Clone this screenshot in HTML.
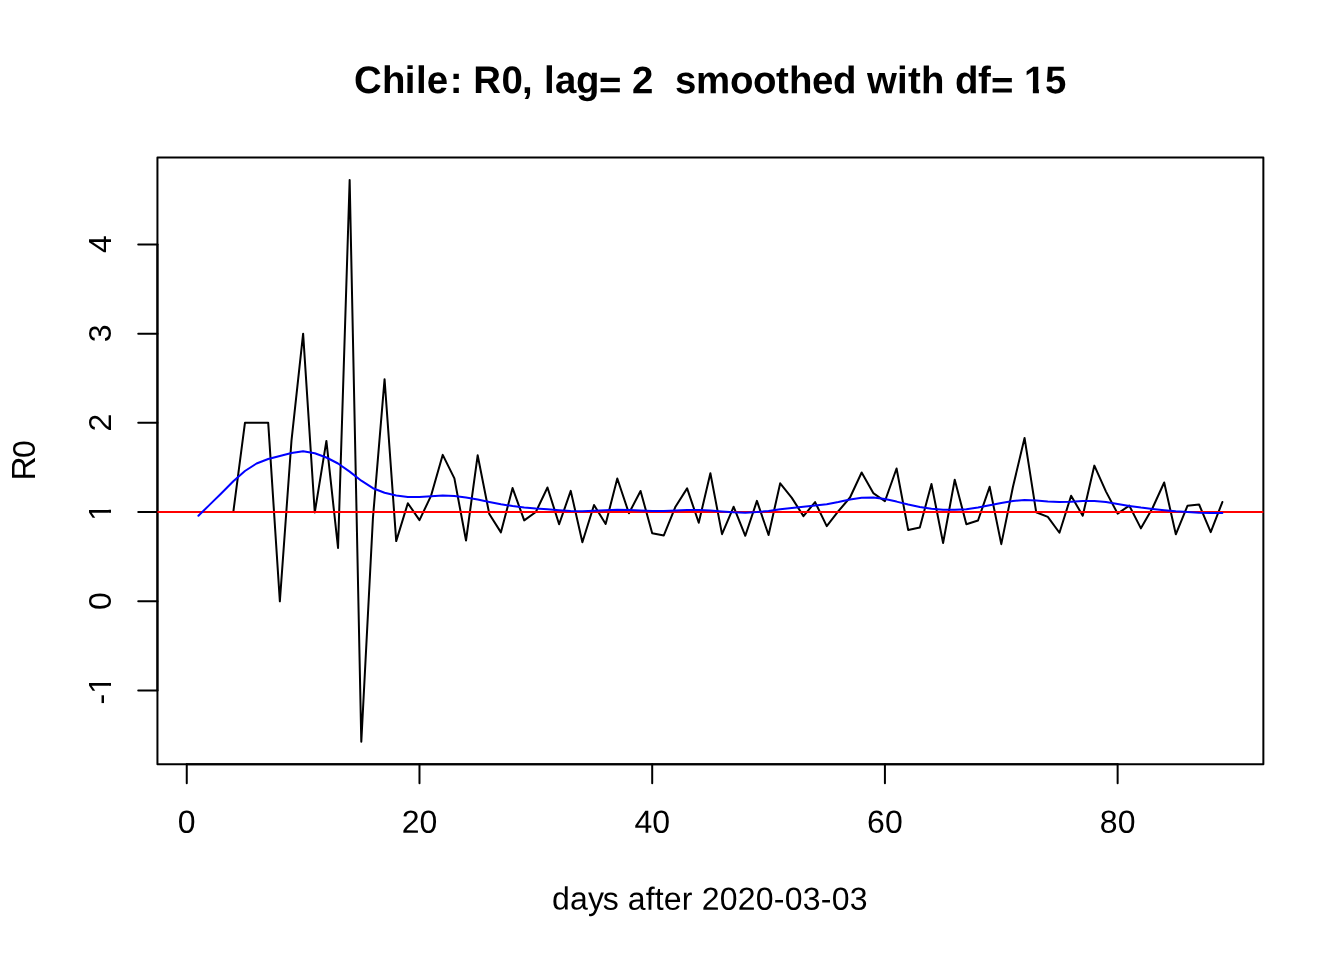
<!DOCTYPE html>
<html><head><meta charset="utf-8"><title>Chile R0</title>
<style>
html,body{margin:0;padding:0;background:#fff;}
body{width:1344px;height:960px;overflow:hidden;font-family:"Liberation Sans",sans-serif;}
svg{display:block;will-change:transform;}
text{font-family:"Liberation Sans",sans-serif;fill:#000;}
</style></head><body>
<svg width="1344" height="960" viewBox="0 0 1344 960">
<rect x="0" y="0" width="1344" height="960" fill="#fff"/>
<g fill="none" stroke-width="2" stroke-linecap="round" stroke-linejoin="round">
<polyline stroke="#000" points="198.40,512.09 210.03,512.09 221.67,512.09 233.30,512.09 244.94,422.87 256.58,422.87 268.21,422.87 279.85,601.31 291.48,440.60 303.12,333.65 314.76,512.50 326.39,440.90 338.03,548.00 349.66,179.90 361.30,741.70 372.94,518.00 384.57,379.20 396.21,541.10 407.84,503.20 419.48,520.10 431.12,495.60 442.75,454.85 454.39,478.35 466.02,540.50 477.66,455.30 489.30,514.00 500.93,532.35 512.57,488.05 524.20,520.35 535.84,511.95 547.48,487.50 559.11,524.25 570.75,490.90 582.38,542.20 594.02,505.00 605.66,524.00 617.29,478.50 628.93,513.30 640.56,491.00 652.20,533.20 663.84,535.40 675.47,506.70 687.11,488.40 698.74,522.70 710.38,473.30 722.02,534.15 733.65,506.75 745.29,535.80 756.92,500.90 768.56,534.95 780.20,483.30 791.83,497.90 803.47,516.15 815.10,502.10 826.74,526.15 838.38,511.20 850.01,497.50 861.65,472.50 873.28,493.10 884.92,501.25 896.56,468.50 908.19,529.95 919.83,527.40 931.46,483.90 943.10,542.95 954.74,479.80 966.37,524.25 978.01,520.50 989.64,486.80 1001.28,544.15 1012.92,487.00 1024.55,437.90 1036.19,512.20 1047.82,516.90 1059.46,532.75 1071.10,495.80 1082.73,515.65 1094.37,465.60 1106.00,491.60 1117.64,513.65 1129.28,505.60 1140.91,528.35 1152.55,508.00 1164.18,482.50 1175.82,534.30 1187.46,505.85 1199.09,504.50 1210.73,532.15 1222.36,502.05"/>
<g stroke="#000">
<path d="M186.76,764.16 H1117.64"/>
<path d="M186.76,764.16 v19.2"/>
<path d="M419.48,764.16 v19.2"/>
<path d="M652.20,764.16 v19.2"/>
<path d="M884.92,764.16 v19.2"/>
<path d="M1117.64,764.16 v19.2"/>
<path d="M157.44,690.53 V244.43"/>
<path d="M157.44,690.53 h-19.2"/>
<path d="M157.44,601.31 h-19.2"/>
<path d="M157.44,512.09 h-19.2"/>
<path d="M157.44,422.87 h-19.2"/>
<path d="M157.44,333.65 h-19.2"/>
<path d="M157.44,244.43 h-19.2"/>
<rect x="157.44" y="157.44" width="1105.92" height="606.72"/>
</g>
<path stroke="#ff0000" stroke-linecap="butt" d="M157.44,512.09 H1263.36"/>
<polyline stroke="#0000ff" points="198.40,515.80 210.03,504.40 221.67,493.00 233.30,481.20 244.94,471.00 256.58,463.50 268.21,459.00 279.85,456.00 291.48,453.00 303.12,451.30 314.76,453.20 326.39,457.50 338.03,463.50 349.66,471.60 361.30,480.70 372.94,488.20 384.57,492.80 396.21,495.40 407.84,496.90 419.48,497.10 431.12,496.30 442.75,495.40 454.39,496.00 466.02,497.50 477.66,499.40 489.30,501.90 500.93,504.20 512.57,506.10 524.20,507.50 535.84,508.60 547.48,509.30 559.11,510.20 570.75,510.90 582.38,511.20 594.02,510.75 605.66,510.20 617.29,509.85 628.93,509.95 640.56,510.60 652.20,511.00 663.84,511.00 675.47,510.50 687.11,510.00 698.74,510.10 710.38,510.50 722.02,511.50 733.65,512.30 745.29,512.70 756.92,512.10 768.56,511.00 780.20,509.30 791.83,508.00 803.47,506.70 815.10,505.50 826.74,504.20 838.38,502.00 850.01,499.40 861.65,497.80 873.28,497.50 884.92,499.10 896.56,501.60 908.19,504.50 919.83,507.00 931.46,508.80 943.10,509.70 954.74,509.85 966.37,509.30 978.01,507.50 989.64,505.20 1001.28,502.90 1012.92,501.00 1024.55,500.00 1036.19,500.50 1047.82,501.40 1059.46,502.00 1071.10,501.70 1082.73,501.10 1094.37,500.90 1106.00,502.10 1117.64,504.00 1129.28,505.90 1140.91,507.60 1152.55,509.00 1164.18,510.20 1175.82,511.30 1187.46,512.05 1199.09,512.70 1210.73,513.05 1222.36,513.10"/>

</g>
<text transform="translate(354.90,93) rotate(0.03)" font-size="38.4" font-weight="bold" id="title" xml:space="preserve" x="-0.8 27.1 49.8 61.1 71.8 94.8 107 118.3 146.7 167 178 189 200 221 244 266 277 298 309 320 341 375 398 421 434 457 478 501 512 542 553 566 589 600 623 636 658 669 690" dy="0 0 0 0 0 0 0 0 0 0 0 0 0 0 4.7 -4.7 0 0 0 0 0 0 0 0 0 0 0 0 0 0 0 0 0 0 0 4.7 -4.7 0 0">Chile: R0, lag= 2  smoothed with df= 15</text>
<text transform="translate(551.90,909.6) rotate(0.03)" font-size="32" id="xlab" xml:space="preserve" x="0 18 36 50.8 66.8 75.8 93.8 102.8 111.8 129.8 140.8 149.8 167.8 185.8 203.8 221.8 232.8 250.8 268.8 279.8 297.8">days after 2020-03-03</text>
<text transform="translate(35,460) rotate(-90)" font-size="32" id="ylab" x="-20.6 1.9"><tspan font-size="33.5">R</tspan>0</text>
<text transform="translate(186.76,832.8) rotate(0.03)" font-size="32" text-anchor="middle" class="xt">0</text>
<text transform="translate(419.48,832.8) rotate(0.03)" font-size="32" text-anchor="middle" class="xt">20</text>
<text transform="translate(652.20,832.8) rotate(0.03)" font-size="32" text-anchor="middle" class="xt">40</text>
<text transform="translate(884.92,832.8) rotate(0.03)" font-size="32" text-anchor="middle" class="xt">60</text>
<text transform="translate(1117.64,832.8) rotate(0.03)" font-size="32" text-anchor="middle" class="xt">80</text>
<text transform="translate(111,690.28) rotate(-90)" font-size="32" text-anchor="middle" class="yt">-1</text>
<text transform="translate(111,601.06) rotate(-90)" font-size="32" text-anchor="middle" class="yt">0</text>
<text transform="translate(111,511.84) rotate(-90)" font-size="32" text-anchor="middle" class="yt">1</text>
<text transform="translate(111,422.62) rotate(-90)" font-size="32" text-anchor="middle" class="yt">2</text>
<text transform="translate(111,333.40) rotate(-90)" font-size="32" text-anchor="middle" class="yt">3</text>
<text transform="translate(111,244.18) rotate(-90)" font-size="32" text-anchor="middle" class="yt">4</text>
<g fill="#fff" stroke="none" id="serif-mask">
<rect x="1025" y="88.1" width="7.87" height="6"/><rect x="1038.9" y="88.1" width="6.2" height="6"/>
<rect x="107.9" y="503.7" width="3.9" height="6.03"/><rect x="107.9" y="512.8" width="3.9" height="6.5"/>
<rect x="107.9" y="676.7" width="3.9" height="6.27"/><rect x="107.9" y="685.83" width="3.9" height="6.7"/>
</g>
</svg>
</body></html>
